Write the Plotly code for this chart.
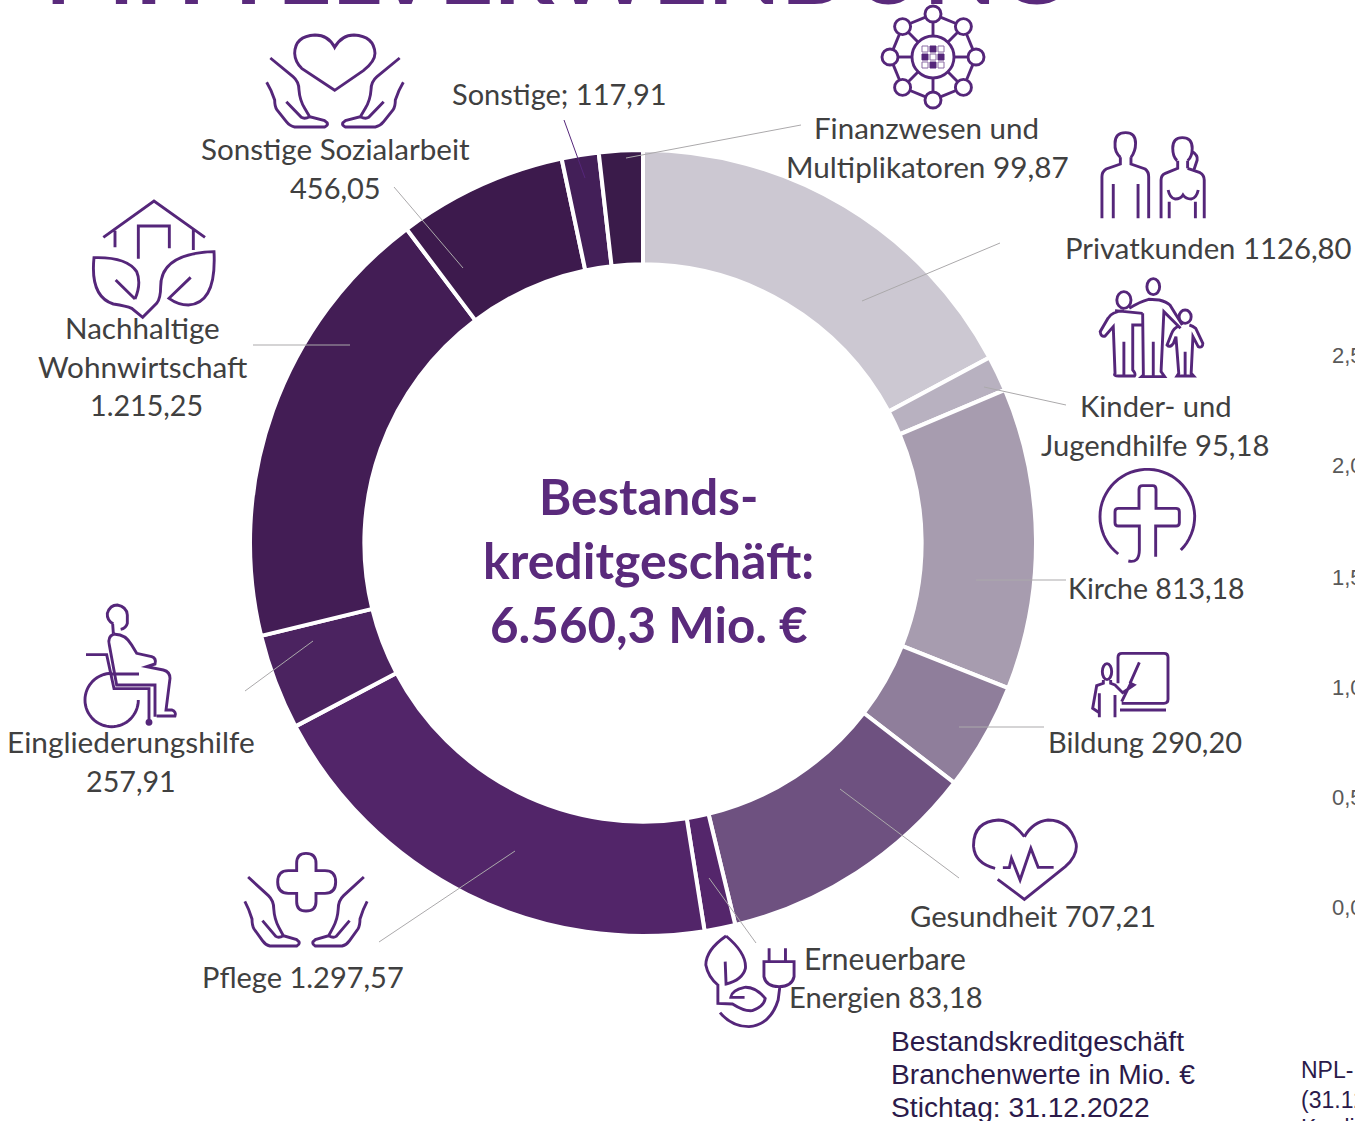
import re, math
import plotly.graph_objects as go

W, H = 1355, 1121

# Slice order as drawn in the picture: the slice before last is the narrower one.
branches = ["Privatkunden", "Kinder- und Jugendhilfe", "Kirche", "Bildung", "Gesundheit",
            "Erneuerbare Energien", "Pflege", "Eingliederungshilfe", "Nachhaltige Wohnwirtschaft",
            "Sonstige Sozialarbeit", "Finanzwesen und Multiplikatoren", "Sonstige"]
volumes = [1126.80, 95.18, 813.18, 290.20, 707.21, 83.18, 1297.57, 257.91, 1215.25, 456.05, 99.87, 117.91]
slice_colors = ["#CCC8D2", "#B8B1C0", "#A79CAF", "#8F7E9B", "#6E5180", "#54266B",
                "#522569", "#4B2360", "#431D55", "#3D1A4D", "#431F58", "#3A1B4A"]

PURPLE = "#55267A"
LEADER = "#ABA9AB"
TEXT = "#404040"

fig = go.Figure(go.Pie(
    labels=branches, values=volumes, sort=False, direction="clockwise", rotation=0,
    hole=0.709, textinfo="none", showlegend=False,
    marker=dict(colors=slice_colors, line=dict(color="white", width=4)),
    domain=dict(x=[250/W, 1036/W], y=[1-936/H, 1-150/H]),
))

shapes, annots = [], []


def fx(x): return x / W
def fy(y): return 1 - y / H


def path(d, ox=0, oy=0, sx=1.0, sy=1.0, color=PURPLE, width=2.9, fill=None):
    """d is written in crop coordinates; converted to paper fractions."""
    nums = iter(re.findall(r"[A-Za-z]|-?\d+\.?\d*", d))
    out, idx = [], 0
    for tok in nums:
        if tok.isalpha():
            out.append(tok); idx = 0
        else:
            v = float(tok)
            if idx % 2 == 0:
                out.append(f"{fx(ox + v * sx):.5f},")
            else:
                out.append(f"{fy(oy + v * sy):.5f}")
            idx += 1
    shape = dict(type="path", xref="paper", yref="paper", path=" ".join(out).replace(", ", ","),
                 line=dict(color=color, width=width))
    if fill:
        shape["fillcolor"] = fill
    shapes.append(shape)


def ellipse(cx, cy, rx, ry, color=PURPLE, width=2.9, fill=None):
    shapes.append(dict(type="circle", xref="paper", yref="paper",
                       x0=fx(cx-rx), x1=fx(cx+rx), y0=fy(cy+ry), y1=fy(cy-ry),
                       line=dict(color=color, width=width), fillcolor=fill))


def arc(cx, cy, r, a0, a1, ry=None, **kw):
    ry = ry or r
    n = 48
    pts = [(cx + r*math.cos(math.radians(a0+(a1-a0)*i/n)), cy + ry*math.sin(math.radians(a0+(a1-a0)*i/n))) for i in range(n+1)]
    path("M" + " L".join(f"{x:.1f} {y:.1f}" for x, y in pts), **kw)


def leader(x0, y0, x1, y1, color=LEADER):
    shapes.append(dict(type="line", xref="paper", yref="paper", x0=fx(x0), y0=fy(y0), x1=fx(x1), y1=fy(y1),
                       line=dict(color=color, width=1)))


def text(s, x, y, size=29.4, color=TEXT, font="Lato", anchor="center", bold=False):
    annots.append(dict(text=f"<b>{s}</b>" if bold else s, x=fx(x), y=fy(y), xref="paper", yref="paper",
                       xanchor=anchor, yanchor="middle", showarrow=False,
                       font=dict(size=size, color=color, family=font)))


HAND = ("M812 174 L880 230 Q898 245 898 270 Q900 300 915 325 L930 350 L975 362 Q992 372 975 381 "
        "L885 381 Q870 378 860 365 L832 330 Q825 320 825 300 Q815 270 801 247 "
        "M860 305 L905 352 Q915 358 930 350")


def hands(mid, top, scale_x, scale_y):
    # left hand and its mirror image
    path(HAND, ox=mid - 1006/3*scale_x, oy=top - 174/3*scale_y, sx=scale_x/3, sy=scale_y/3)
    path(HAND, ox=mid + 1006/3*scale_x, oy=top - 174/3*scale_y, sx=-scale_x/3, sy=scale_y/3)


# --- Sonstige Sozialarbeit icon
hands(335, 58, 1, 1)
path("M1004 142 Q985 105 945 105 Q885 108 884 160 Q885 185 905 205 L1004 271 L1090 212 "
     "Q1125 185 1125 160 Q1122 108 1062 105 Q1025 105 1004 142 Z", sx=1/3, sy=1/3)

# --- Nachhaltige Wohnwirtschaft icon
z1 = dict(sx=1/3, sy=1/3)
path("M310 712 L462 603 L615 712 M345 692 L345 742 M580 690 L580 750 M415 776 L415 678 L508 678 L508 745", **z1)
path("M405 897 Q425 850 410 815 Q380 770 282 773 Q270 890 340 912 Q380 918 395 925 L428 952 L470 910 "
     "Q482 895 482 860 Q482 760 642 755 Q650 910 565 915 Q535 915 507 895 L572 832 M405 897 L347 840", **z1)

# --- Finanzwesen icon
cx, cy, R = 933, 57, 43
pts = [(cx + R*math.cos(math.radians(a)), cy + R*math.sin(math.radians(a))) for a in range(0, 360, 45)]
for i, (x, y) in enumerate(pts):
    a = i*45
    ca, sa = math.cos(math.radians(a)), math.sin(math.radians(a))
    path(f"M{cx+21*ca:.1f} {cy+21*sa:.1f} L{x-8*ca:.1f} {y-8*sa:.1f}")
    nx, ny = pts[(i+1) % 8]
    d = math.hypot(nx-x, ny-y)
    ux, uy = (nx-x)/d, (ny-y)/d
    path(f"M{x+8*ux:.1f} {y+8*uy:.1f} L{nx-8*ux:.1f} {ny-8*uy:.1f}")
    ellipse(x, y, 8, 8)
ellipse(cx, cy, 21, 21)
for r, row in enumerate(["010", "101", "010"]):
    for c, v in enumerate(row):
        x0, y0 = cx - 11 + c*8, cy - 11 + r*8
        shapes.append(dict(type="rect", xref="paper", yref="paper",
                           x0=fx(x0), x1=fx(x0+6), y0=fy(y0+6), y1=fy(y0),
                           line=dict(color="#8A6AA3" if v == "0" else PURPLE, width=1),
                           fillcolor=PURPLE if v == "1" else "white"))

# --- Privatkunden icon
z2 = dict(ox=800, oy=0, sx=1/2.825, sy=1/3)
path("M905 472 Q888 455 890 430 Q890 398 920 398 Q948 398 948 430 Q948 455 935 472 "
     "M905 472 L905 492 L865 507 Q853 515 853 530 L853 655 M935 472 L935 492 L975 507 Q985 515 985 530 L985 655 "
     "M885 552 L885 655 M955 552 L955 655", **z2)
path("M1065 482 Q1053 470 1053 445 Q1053 413 1080 413 Q1108 413 1108 445 Q1108 472 1095 482 "
     "M1067 482 L1067 505 L1032 520 Q1020 525 1020 540 L1020 655 M1095 482 L1095 505 "
     "M1105 452 Q1125 465 1122 480 L1112 512 M1095 505 L1130 518 Q1142 525 1142 540 L1142 655 "
     "M1040 570 Q1045 595 1060 597 Q1075 597 1082 585 Q1090 597 1105 597 Q1120 595 1125 570 "
     "M1043 605 L1043 655 M1117 605 L1117 655", **z2)

# --- Kinder- und Jugendhilfe icon
ellipse(800+915/2.825, 900/3, 20/2.825, 25/3)
ellipse(800+998/2.825, 860/3, 18/2.825, 24/3)
ellipse(800+1088/2.825, 950/3, 17/2.825, 20/3)
path("M915 932 Q880 935 870 955 L848 995 Q850 1012 862 1008 L885 980 L890 1120 Q885 1128 900 1128 L945 1128 "
     "Q950 1122 940 1110 L940 975 L968 975 M915 1025 L915 1125 M890 932 L968 940", **z2)
path("M930 925 Q960 905 985 898 L1015 900 Q1035 905 1045 915 L1080 975 "
     "M968 940 L970 1125 L965 1130 L1030 1130 L1020 1115 L1028 935 L1075 985 M998 1025 L998 1128", **z2)
path("M1070 978 Q1055 985 1050 1000 L1037 1035 Q1045 1045 1055 1030 L1062 1010 L1070 1120 L1065 1128 "
     "L1112 1128 L1105 1120 L1110 1010 L1125 1040 Q1138 1045 1138 1030 L1118 985 Q1110 978 1100 975 "
     "M1088 1055 L1088 1125", **z2)

# --- Kirche icon
z3 = dict(ox=1040, oy=400, sx=1/3, sy=1/3)
arc(1040+322/3, 400+350/3, 142/3, 128, 405)
path("M265 483 Q298 490 298 450 L298 378 L235 378 Q225 378 225 368 L225 335 Q225 325 235 325 L297 325 "
     "L297 268 Q297 257 308 257 L338 257 Q348 257 348 268 L348 325 L408 325 Q418 325 418 335 L418 368 "
     "Q418 378 408 378 L347 378 L347 470", **z3)

# --- Bildung icon
path("M234 850 L234 772 Q234 760 246 760 L372 760 Q384 760 384 772 L384 898 Q384 910 372 910 L245 910 "
     "M240 930 L378 930 M270 850 L298 787", **z3)
ellipse(1040+201/3, 400+815/3, 14/3, 24/3)
path("M190 840 L190 850 L170 857 L158 925 L178 938 M178 880 L178 952 "
     "M212 840 L212 850 L225 855 L248 878 L282 855 L272 850 L245 905 M225 885 L225 952", **z3)

# --- Gesundheit icon
z4 = dict(ox=680, oy=780, sx=1/2.323, sy=1/3)
path("M800 170 Q770 120 740 120 Q680 125 682 200 Q685 250 732 265 "
     "M738 298 L800 358 L895 260 Q925 225 920 190 Q905 120 855 120 Q820 125 800 170 "
     "M750 263 L765 263 L770 235 L790 300 L815 205 L832 262 L868 262", **z4)

# --- Erneuerbare Energien icon
path("M107 468 Q155 520 152 565 Q145 600 107 612 L105 545 "
     "M107 468 Q60 510 60 555 Q65 590 88 615 L88 670 L122 672 Q150 695 168 692 Q195 680 198 655 "
     "Q175 620 150 622 Q120 630 118 652 L150 652 "
     "M93 698 Q120 740 160 740 Q210 735 228 660 L232 620 "
     "M207 505 L207 545 M245 505 L245 545 M195 545 L265 545 L265 590 Q260 620 230 620 Q200 620 195 590 Z", **z4)

# --- Pflege icon
hands(306, 877, 0.895, 1.0)
path("M890 820 Q890 790 918 790 Q948 790 948 820 L948 842 L975 842 Q1007 842 1007 876 Q1007 910 975 910 "
     "L948 910 L948 935 Q948 963 918 963 Q890 963 890 935 L890 910 L865 910 Q833 910 833 876 Q833 842 865 842 "
     "L890 842 Z", ox=0, oy=590, sx=1/3, sy=1/3)

# --- Eingliederungshilfe icon
z5 = dict(ox=0, oy=590, sx=1/3, sy=1/3)
path("M340 102 Q320 90 322 70 Q330 45 352 45 Q380 50 382 75 L382 100 Q378 115 362 118 M338 102 L340 130 "
     "M340 133 Q322 140 328 165 L350 285 L465 285 L465 380 "
     "M340 133 Q375 130 395 165 L410 190 L455 200 Q470 205 465 222 L440 230 L490 240 Q510 245 510 265 L498 360 "
     "L515 360 Q530 365 525 378 L470 378 "
     "M258 194 L320 194 L342 296 L447 296 L447 395 M335 252 L417 252", **z5)
arc(335/3, 590+330/3, 80/3, -90, -360)
ellipse(447/3, 590+397/3, 2, 2, fill=PURPLE)

# --- Leader lines
leader(801, 125, 626, 158)
leader(1000, 243, 862, 301)
leader(1066, 405, 984, 387)
leader(1066, 580, 976, 580)
leader(1044, 727, 959, 727)
leader(959, 878, 840, 789)
leader(756, 943, 709, 878)
leader(379, 942, 515, 851)
leader(245, 691, 313, 641)
leader(253, 345, 350, 345)
leader(394, 187, 463, 268)
leader(564, 120, 585, 178, color=PURPLE)

# --- Labels
text("Sonstige; 117,91", 559.5, 93.5, size=29)
text("Finanzwesen und", 927, 127.5, size=29.5)
text("Multiplikatoren 99,87", 927.5, 166.5, size=29.7)
text("Privatkunden 1126,80", 1208.5, 247.5, size=29.3)
text("Kinder- und", 1155.5, 405.5, size=29.2)
text("Jugendhilfe 95,18", 1155, 444.5, size=29.2)
text("Kirche 813,18", 1156, 587.5, size=28.5)
text("Bildung 290,20", 1144.5, 741.5, size=29)
text("Gesundheit 707,21", 1033, 915.5, size=29.2)
text("Erneuerbare", 885, 957.5, size=30)
text("Energien 83,18", 885.5, 996.5, size=29.1)
text("Pflege 1.297,57", 303, 976.5, size=29)
text("Eingliederungshilfe", 131, 741.5, size=29.8)
text("257,91", 131, 780.5, size=28.7)
text("Nachhaltige", 142.5, 327.5, size=29.6)
text("Wohnwirtschaft", 143, 366.5, size=29.7)
text("1.215,25", 146, 404.5, size=28.7)
text("Sonstige Sozialarbeit", 335, 148.5, size=29.6)
text("456,05", 335.5, 187.5, size=29)

# --- Centre text
CENTER = "#5A2A7C"
text("Bestands-", 648.5, 496, size=49.3, color=CENTER, bold=True)
text("kreditgeschäft:", 648.5, 560, size=50, color=CENTER, bold=True)
text("6.560,3 Mio. €", 648.5, 624, size=49.3, color=CENTER, bold=True)

# --- Note below the chart
NOTE = "#2B1A4A"
note_lines = ["Bestandskreditgeschäft", "Branchenwerte in Mio. €", "Stichtag: 31.12.2022"]
for s, y in zip(note_lines, [1041, 1074, 1107]):
    text(s, 889, y, size=28.2, color=NOTE, font="Liberation Sans", anchor="left")

# --- Cropped neighbouring chart
axis_ticks = ["2,5", "2,0", "1,5", "1,0", "0,5", "0,0"]
for s, y in zip(axis_ticks, [356, 466, 577, 687, 797, 907]):
    text(s, 1330, y, size=22, color="#595959", font="Liberation Sans", anchor="left")
for s, y in zip(["NPL-", "(31.12.2022)", "Kredite"], [1070, 1100, 1128]):
    text(s, 1299, y, size=23, color=NOTE, font="Liberation Sans", anchor="left")

# --- Cropped page title
text("MITTELVERWENDUNG", 555, -33, size=95, color=CENTER, bold=True)

fig.update_layout(width=W, height=H, margin=dict(l=0, r=0, t=0, b=0), paper_bgcolor="white",
                  shapes=shapes, annotations=annots)
fig.write_html("out.html", config={"displayModeBar": False},
               post_script="document.body.style.margin='0';document.documentElement.style.overflow='hidden';")
